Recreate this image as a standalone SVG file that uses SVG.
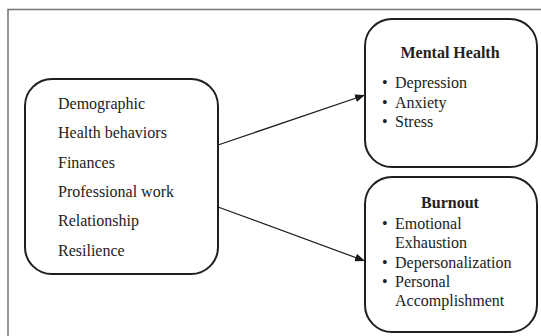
<svg xmlns="http://www.w3.org/2000/svg" width="541" height="336" viewBox="0 0 541 336">
  <defs>
    <marker id="arrowhead" markerWidth="10" markerHeight="8" refX="10" refY="4" orient="auto" markerUnits="userSpaceOnUse">
      <path d="M0,0 L10,4 L0,8 Z" fill="#1a1a1a"/>
    </marker>
    <style>
      .frame { fill: none; stroke: #7a7a7a; stroke-width: 1.6; }
      .box { fill: #ffffff; stroke: #1f1f1f; stroke-width: 2; }
      .txt { font-family: "Liberation Serif", "Times New Roman", serif; font-size: 16px; fill: #222222; }
      .title { font-family: "Liberation Serif", "Times New Roman", serif; font-size: 16px; font-weight: bold; fill: #222222; text-anchor: middle; }
      .edge { stroke: #1a1a1a; stroke-width: 1.2; fill: none; marker-end: url(#arrowhead); }
    </style>
  </defs>

  <rect width="541" height="336" fill="#ffffff"/>
  <!-- outer frame, open past the right and bottom edges -->
  <rect class="frame" x="8" y="9.5" width="600" height="400"/>

  <g id="connectors">
    <line class="edge" x1="218" y1="145" x2="365" y2="95"/>
    <line class="edge" x1="218" y1="207" x2="365" y2="261"/>
  </g>

  <g id="factors">
    <rect class="box" x="25" y="79" width="193" height="195" rx="27" ry="27"/>
    <text class="txt" x="58" y="109">Demographic</text>
    <text class="txt" x="58" y="138.3">Health behaviors</text>
    <text class="txt" x="58" y="167.6">Finances</text>
    <text class="txt" x="58" y="196.9">Professional work</text>
    <text class="txt" x="58" y="226.2">Relationship</text>
    <text class="txt" x="58" y="255.5">Resilience</text>
  </g>

  <g id="mental-health">
    <rect class="box" x="365" y="19" width="172" height="148" rx="27" ry="27"/>
    <text class="title" x="450" y="58">Mental Health</text>
    <text class="txt" x="382" y="88">•</text>
    <text class="txt" x="395" y="88">Depression</text>
    <text class="txt" x="382" y="107.5">•</text>
    <text class="txt" x="395" y="107.5">Anxiety</text>
    <text class="txt" x="382" y="127">•</text>
    <text class="txt" x="395" y="127">Stress</text>
  </g>

  <g id="burnout">
    <rect class="box" x="365" y="177" width="172" height="155" rx="27" ry="27"/>
    <text class="title" x="450" y="208">Burnout</text>
    <text class="txt" x="382" y="229">•</text>
    <text class="txt" x="395" y="229">Emotional</text>
    <text class="txt" x="395" y="248.3">Exhaustion</text>
    <text class="txt" x="382" y="267.6">•</text>
    <text class="txt" x="395" y="267.6">Depersonalization</text>
    <text class="txt" x="382" y="287">•</text>
    <text class="txt" x="395" y="287">Personal</text>
    <text class="txt" x="395" y="306.3">Accomplishment</text>
  </g>
</svg>
